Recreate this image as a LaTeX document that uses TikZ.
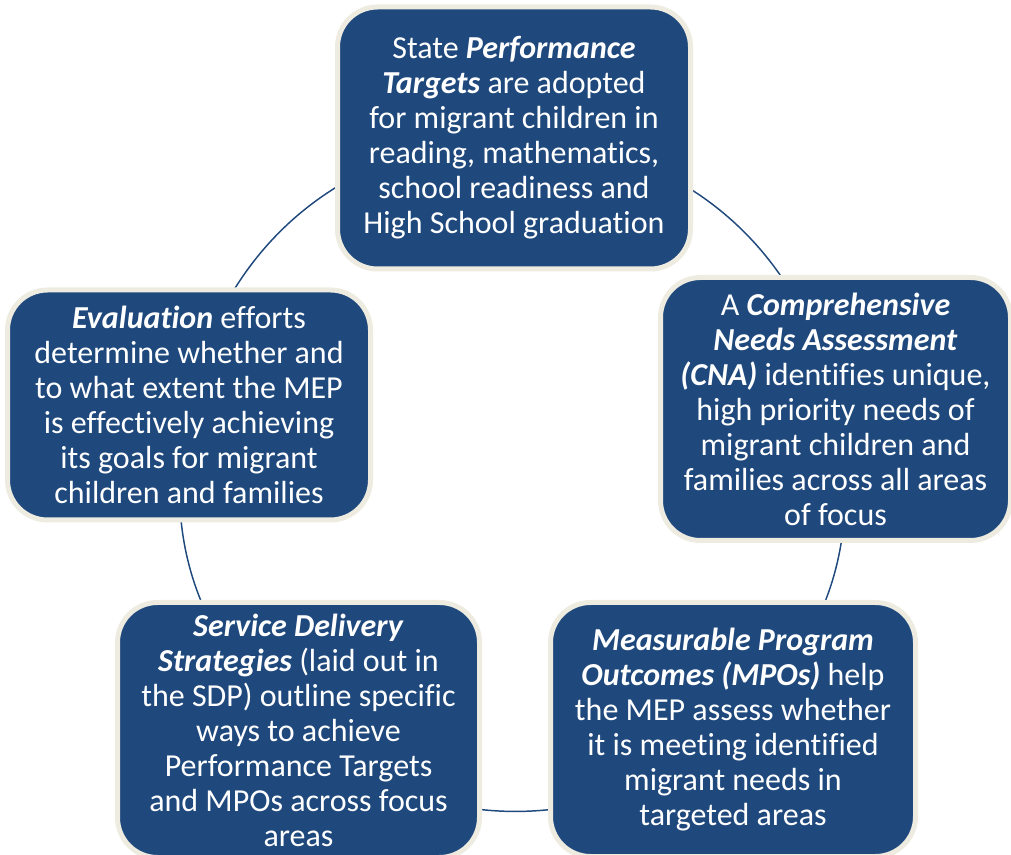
\documentclass[tikz,border=0pt]{standalone}
\usepackage{fontspec}
\setmainfont{Carlito}[Ligatures=NoCommon]
\usetikzlibrary{backgrounds}
\definecolor{mepblue}{HTML}{1F497D}
\definecolor{mepcream}{HTML}{EEECE1}
\newcommand{\keyterm}[1]{\textbf{\textit{#1}}}
\begin{document}
\begin{tikzpicture}[x=0.75pt,y=0.75pt,
    stage/.style={draw=mepcream,line width=3.75pt,fill=mepblue,rounded corners=30pt,
      text=white,align=center,inner sep=0pt,font=\fontsize{24}{26.25}\selectfont},
    link/.style={draw=mepblue,line width=1.1pt}]
  \useasboundingbox (0,0) rectangle (1011,854);
  \clip (0,0) rectangle (1011,854);
  \node[stage,minimum width=264.75pt,minimum height=196.5pt] (targets) at (514,716)
    {State \keyterm{Performance}\\ \keyterm{Targets} are adopted\\ for migrant children in\\
     reading, mathematics,\\ school readiness and\\ High School graduation};
  \node[stage,minimum width=262.5pt,minimum height=197.25pt] (cna) at (835.5,445)
    {A \keyterm{Comprehensive}\\ \keyterm{Needs Assessment}\\ \keyterm{(CNA)} identifies unique,\\
     high priority needs of\\ migrant children and\\ families across all areas\\ of focus};
  \node[stage,minimum width=273.75pt,minimum height=190.5pt] (mpo) at (733,124.5)
    {\keyterm{Measurable Program}\\ \keyterm{Outcomes (MPOs)} help\\ the MEP assess whether\\
     it is meeting identified\\ migrant needs in\\ targeted areas};
  \node[stage,minimum width=271.5pt,minimum height=191.25pt] (sds) at (298.5,124)
    {\keyterm{Service Delivery}\\ \keyterm{Strategies} (laid out in\\ the SDP) outline specific\\
     ways to achieve\\ Performance Targets\\ and MPOs across focus\\ areas};
  \node[stage,minimum width=272.25pt,minimum height=172.5pt] (eval) at (189,449)
    {\keyterm{Evaluation} efforts\\ determine whether and\\ to what extent the MEP\\
     is effectively achieving\\ its goals for migrant\\ children and families};
  \begin{scope}[on background layer]
    \draw[link] (targets.center) to[bend right=39] (eval.center);
    \draw[link] (eval.center) to[bend right=31] (sds.center);
    \draw[link] (sds.center) to[bend right=40] (mpo.center);
    \draw[link] (mpo.center) to[bend right=30] (cna.center);
    \draw[link] (cna.center) to[bend right=39] (targets.center);
  \end{scope}
\end{tikzpicture}
\end{document}
